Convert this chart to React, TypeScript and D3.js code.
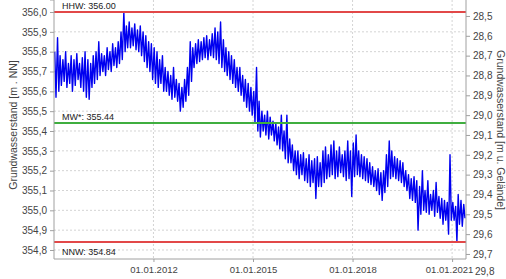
import { useRef, useEffect } from 'react';
import * as d3 from 'd3';

// monthly upper / lower envelope of the daily readings, Jan 2009 .. May 2021 (m NN)
const firstMonth = new Date(2009, 0, 1);

const monthlyHigh = [
    // 2009
    355.80, 355.87, 355.78, 355.76, 355.80, 355.74, 355.78, 355.76, 355.79, 355.74, 355.77, 355.80,
    // 2010
    355.76, 355.74, 355.78, 355.80, 355.85, 355.79, 355.78, 355.82, 355.80, 355.84, 355.82, 355.85,
    // 2011
    355.90, 356.00, 355.93, 355.95, 355.92, 355.94, 355.91, 355.93, 355.90, 355.88, 355.85, 355.84,
    // 2012
    355.82, 355.80, 355.76, 355.78, 355.72, 355.70, 355.68, 355.72, 355.66, 355.64, 355.62, 355.66,
    // 2013
    355.72, 355.85, 355.82, 355.84, 355.86, 355.85, 355.87, 355.88, 355.86, 355.89, 355.92, 355.90,
    // 2014
    355.95, 355.86, 355.82, 355.80, 355.78, 355.76, 355.72, 355.72, 355.68, 355.66, 355.64, 355.62,
    // 2015
    355.60, 355.72, 355.55, 355.50, 355.48, 355.50, 355.47, 355.45, 355.44, 355.42, 355.48, 355.40,
    // 2016
    355.48, 355.36, 355.33, 355.30, 355.30, 355.28, 355.29, 355.26, 355.28, 355.25, 355.26, 355.27,
    // 2017
    355.24, 355.30, 355.32, 355.28, 355.33, 355.35, 355.30, 355.32, 355.28, 355.30, 355.35, 355.30,
    // 2018
    355.34, 355.38, 355.30, 355.28, 355.27, 355.26, 355.24, 355.22, 355.20, 355.21, 355.19, 355.20,
    // 2019
    355.28, 355.35, 355.30, 355.27, 355.26, 355.25, 355.24, 355.20, 355.18, 355.16, 355.17, 355.15,
    // 2020
    355.12, 355.20, 355.10, 355.15, 355.08, 355.10, 355.14, 355.07, 355.06, 355.05, 355.04, 355.28,
    // 2021
    355.04, 355.02, 355.08, 355.05, 355.03,
];

const monthlyLow = [
    355.57, 355.60, 355.63, 355.65, 355.62, 355.64, 355.60, 355.63, 355.66, 355.62, 355.60, 355.57,
    355.56, 355.62, 355.64, 355.66, 355.68, 355.70, 355.68, 355.71, 355.70, 355.73, 355.72, 355.74,
    355.76, 355.80, 355.82, 355.82, 355.83, 355.81, 355.80, 355.78, 355.75, 355.72, 355.70, 355.66,
    355.64, 355.62, 355.64, 355.60, 355.60, 355.58, 355.56, 355.57, 355.55, 355.50, 355.52, 355.55,
    355.58, 355.65, 355.72, 355.74, 355.75, 355.76, 355.77, 355.76, 355.78, 355.77, 355.76, 355.74,
    355.72, 355.70, 355.68, 355.66, 355.64, 355.62, 355.60, 355.58, 355.55, 355.52, 355.50, 355.48,
    355.44, 355.40, 355.37, 355.40, 355.38, 355.36, 355.38, 355.35, 355.33, 355.31, 355.30, 355.26,
    355.24, 355.24, 355.20, 355.18, 355.16, 355.18, 355.15, 355.14, 355.12, 355.14, 355.06, 355.12,
    355.12, 355.14, 355.16, 355.17, 355.18, 355.16, 355.17, 355.19, 355.17, 355.15, 355.16, 355.07,
    355.17, 355.18, 355.17, 355.16, 355.15, 355.14, 355.13, 355.12, 355.10, 355.08, 355.05, 355.09,
    355.12, 355.16, 355.17, 355.16, 355.15, 355.14, 355.12, 355.10, 355.06, 355.05, 355.04, 354.90,
    354.98, 355.00, 354.99, 354.98, 355.00, 354.97, 354.99, 354.96, 354.93, 354.95, 354.88, 354.95,
    354.95, 354.84, 354.93, 354.92, 354.96,
];

const leftTicks = [354.8, 354.9, 355.0, 355.1, 355.2, 355.3, 355.4, 355.5, 355.6, 355.7, 355.8, 355.9, 356.0];
const rightTicks = [28.5, 28.6, 28.7, 28.8, 28.9, 29.0, 29.1, 29.2, 29.3, 29.4, 29.5, 29.6, 29.7, 29.8];
const xTicks = ['2012-01-01', '2015-01-01', '2018-01-01', '2021-01-01'];
const groundLevel = 384.48;

const refLines = [
    { label: 'HHW: 356.00', value: 356.0, color: '#e24848', below: false },
    { label: 'MW*: 355.44', value: 355.44, color: '#3fae3f', below: false },
    { label: 'NNW: 354.84', value: 354.84, color: '#e24848', below: true },
];

export default function App() {
    const svgRef = useRef<SVGSVGElement>(null);

    useEffect(() => {
        if (!svgRef.current) return;
        const width = 506;
        const height = 279;
        const left = 54;
        const right = 466;
        const bottom = 259;
        const font = '"Liberation Sans", Arial, sans-serif';

        const svg = d3.select(svgRef.current);
        svg.selectAll('*').remove();

        const xScale = d3.scaleTime()
            .domain([new Date(2009, 0, 1), new Date(2021, 5, 3)])
            .range([left, right]);

        const yScale = d3.scaleLinear()
            .domain([354.7546, 356.0605])
            .range([bottom, 0]);

        // Grid lines
        svg.append('g')
            .selectAll('line')
            .data(leftTicks)
            .enter()
            .append('line')
            .attr('x1', left)
            .attr('x2', right)
            .attr('y1', d => yScale(d))
            .attr('y2', d => yScale(d))
            .attr('stroke', '#d4d4d4')
            .attr('stroke-dasharray', '2,2');

        svg.append('g')
            .selectAll('line')
            .data(xTicks)
            .enter()
            .append('line')
            .attr('x1', d => xScale(new Date(d)))
            .attr('x2', d => xScale(new Date(d)))
            .attr('y1', 0)
            .attr('y2', bottom)
            .attr('stroke', '#d4d4d4')
            .attr('stroke-dasharray', '2,2');

        // Series: zigzag through the monthly envelope
        const points: { date: Date; value: number }[] = [];
        monthlyHigh.forEach((hi, i) => {
            const m = d3.timeMonth.offset(firstMonth, i);
            points.push({ date: d3.timeDay.offset(m, 8), value: hi });
            points.push({ date: d3.timeDay.offset(m, 22), value: monthlyLow[i] });
        });

        const line = d3.line<{ date: Date; value: number }>()
            .x(d => xScale(d.date))
            .y(d => yScale(d.value));

        svg.append('path')
            .datum(points)
            .attr('fill', 'none')
            .attr('stroke', '#0000f0')
            .attr('stroke-width', 1.4)
            .attr('stroke-linejoin', 'round')
            .attr('d', line);

        // Reference levels
        refLines.forEach(r => {
            svg.append('line')
                .attr('x1', left)
                .attr('x2', right)
                .attr('y1', yScale(r.value))
                .attr('y2', yScale(r.value))
                .attr('stroke', r.color)
                .attr('stroke-width', 2);
            svg.append('text')
                .attr('x', 62)
                .attr('y', yScale(r.value) + (r.below ? 13 : -3))
                .attr('font-family', font)
                .attr('font-size', '9px')
                .attr('fill', '#222')
                .text(r.label);
        });

        const commaFormat = (d: d3.NumberValue) => d3.format('.1f')(d as number).replace('.', ',');

        // Left axis
        const leftAxis = svg.append('g')
            .attr('transform', `translate(${left},0)`)
            .call(d3.axisLeft(yScale).tickValues(leftTicks).tickSize(4).tickPadding(3).tickFormat(commaFormat));

        // Right axis (depth below ground)
        const depthScale = d3.scaleLinear()
            .domain([groundLevel - 354.7546, groundLevel - 356.0605])
            .range([bottom, 0]);
        const rightAxis = svg.append('g')
            .attr('transform', `translate(${right},0)`)
            .call(d3.axisRight(depthScale).tickValues(rightTicks).tickSize(4).tickPadding(3).tickFormat(commaFormat));

        // Bottom axis
        const bottomAxis = svg.append('g')
            .attr('transform', `translate(0,${bottom})`)
            .call(d3.axisBottom(xScale).tickValues(xTicks.map(d => new Date(d))).tickSize(3).tickPadding(4)
                .tickFormat(d => d3.timeFormat('%d.%m.%Y')(d as Date)));

        [leftAxis, rightAxis, bottomAxis].forEach(a => {
            a.select('.domain').attr('stroke', '#a0a0a0');
            a.selectAll('.tick line').attr('stroke', '#a0a0a0');
            a.selectAll('text')
                .attr('fill', '#444')
                .attr('font-family', font)
                .attr('font-size', '10px');
        });
        bottomAxis.selectAll('text').attr('font-size', '9.5px');
        bottomAxis.selectAll('.tick')
            .filter((_, i) => i === xTicks.length - 1)
            .select('text')
            .attr('dx', -3);
        leftAxis.select('.domain').attr('d', `M-4,0H0V${bottom}`);
        rightAxis.select('.domain').attr('d', `M0,0V${bottom}`);
        // last depth label sits below the plot, as in the original
        const belowPlot = rightAxis.selectAll('.tick').filter(d => depthScale(d as number) > bottom);
        belowPlot.select('line').remove();
        belowPlot.select('text').attr('dx', 2).attr('dy', '0.1em');
        bottomAxis.select('.domain').attr('d', `M${left},0H${right}`);

        // Axis titles
        svg.append('text')
            .attr('transform', `translate(17,${125}) rotate(-90)`)
            .attr('text-anchor', 'middle')
            .attr('font-family', font)
            .attr('font-size', '10.5px')
            .attr('fill', '#444')
            .text('Grundwasserstand [m . NN]');

        svg.append('text')
            .attr('transform', `translate(497,${130}) rotate(90)`)
            .attr('text-anchor', 'middle')
            .attr('font-family', font)
            .attr('font-size', '10.5px')
            .attr('fill', '#444')
            .text('Grundwasserstand [m u. Gelände]');

        svg.attr('width', width).attr('height', height);
    }, []);

    return (
        <svg
            ref={svgRef}
            width={506}
            height={279}
            style={{ position: 'absolute', left: 0, top: 0, background: '#fff', overflow: 'visible' }}
        />
    );
}
